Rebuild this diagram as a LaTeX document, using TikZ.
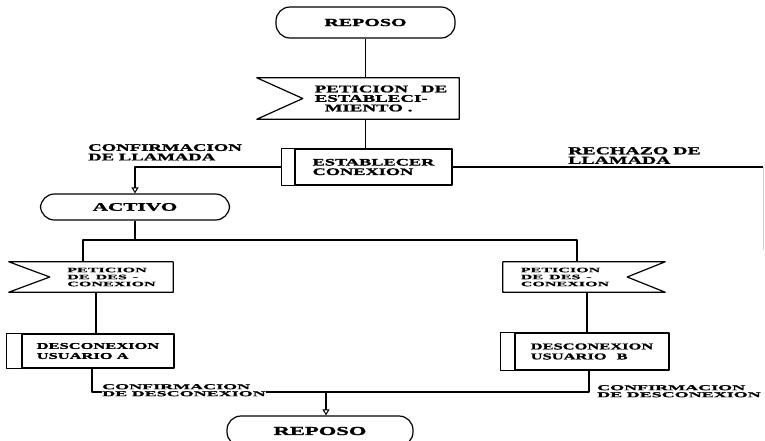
\documentclass[tikz,border=0pt]{standalone}
\usepackage{fontspec}
\newfontfamily\dfont{Liberation Serif}[FakeStretch=1.85, FakeBold=1.6]
\newfontfamily\dfontw{Liberation Serif}[FakeStretch=2.4, FakeBold=1.6]
\usetikzlibrary{arrows.meta,calc}
\tikzset{
  ln/.style={line width=1.2pt, line join=round},
  arr/.style={ln, -{Triangle[open, length=6pt, width=7pt, line width=1pt]}},
  stad/.style={draw, ln, rounded corners=14pt, inner sep=0pt},
  flagtxt/.style={inner sep=0pt, align=left},
  boxtxt/.style={draw, ln, inner sep=0pt, align=left},
  lbl/.style={inner sep=0pt, align=left},
  fa/.style={font={\dfont\bfseries\fontsize{#1}{9.5}\selectfont}},
  fb/.style={font={\dfontw\bfseries\fontsize{#1}{7}\selectfont}}
}
\begin{document}
\begin{tikzpicture}[x=1pt,y=-1pt]
\fill[white] (0,0) rectangle (765,440);
\useasboundingbox (0,0) rectangle (765,440);

% states
\node[stad, minimum width=179pt, minimum height=31pt, fa=10.8] (r1) at (365.5,22.5) {REPOSO\hspace{38pt}};
\node[stad, minimum width=189pt, minimum height=26pt, fa=11.5] (ac) at (135,207) {ACTIVO};
\node[stad, minimum width=186pt, minimum height=30pt, fa=12.2] (r2) at (320,431) {REPOSO};

% input signal (flag) top
\node[flagtxt, minimum width=156pt, minimum height=41pt, fa=10.2] (p1) at (381,98.5)
  {PETICION\hspace{13pt}DE\\ESTABLECI-\\\hspace{10pt}MIENTO .};
\draw[ln] (p1.north east) -- ($(p1.north west)+(-46,0)$) -- (p1.west)
  -- ($(p1.south west)+(-46,0)$) -- (p1.south east) -- cycle;

% process box top
\node[boxtxt, minimum width=157pt, minimum height=36pt, fa=9.9] (ea) at (373.5,167) {ESTABLECER\\CONEXION};
\draw[ln] ($(ea.north west)+(-13,0)$) rectangle (ea.south west);

% left flag
\node[flagtxt, minimum width=123pt, minimum height=30pt, fb=6.7] (pl) at (111.5,277)
  {PETICION\\DE\hspace{6pt}DES\hspace{6pt}-\\CONEXION};
\draw[ln] (pl.north east) -- ($(pl.north west)+(-41,0)$) -- (pl.west)
  -- ($(pl.south west)+(-41,0)$) -- (pl.south east) -- cycle;

% right flag
\node[flagtxt, minimum width=124pt, minimum height=30pt, fb=6.7] (pr) at (565,277)
  {PETICION\\DE\hspace{6pt}DES\hspace{6pt}-\\CONEXION};
\draw[ln] (pr.north west) -- ($(pr.north east)+(38,0)$) -- (pr.east)
  -- ($(pr.south east)+(38,0)$) -- (pr.south west) -- cycle;

% process boxes bottom
\node[boxtxt, minimum width=152pt, minimum height=34pt, font={\dfont\bfseries\fontsize{8.9}{10}\selectfont}] (ba) at (98,351) {DESCONEXION\\USUARIO A};
\draw[ln] ($(ba.north west)+(-15,0)$) rectangle (ba.south west);
\node[boxtxt, minimum width=154pt, minimum height=37pt, font={\dfont\bfseries\fontsize{8.9}{10}\selectfont}] (bb) at (592,351.5) {DESCONEXION\\USUARIO\hspace{10pt}B};
\draw[ln] ($(bb.north west)+(-14,0)$) rectangle (bb.south west);

% coordinates
\coordinate (eaL) at ($(ea.west)+(-13,0)$);
\coordinate (rr) at (763,167);
\coordinate (rr2) at (763,250);
\coordinate (jl) at (83,240);
\coordinate (jr) at (577,240);
\coordinate (xa) at (96,300);
\coordinate (xb) at (587,300);
\coordinate (cl) at (92,392);
\coordinate (cr) at (589,392);
\coordinate (ca) at (326,392);

% connectors
\draw[ln] (r1.south) -- (r1.south |- p1.north);
\draw[ln] (r1.south |- p1.south) -- (r1.south |- ea.north);
\draw[arr] (eaL) -- (eaL -| ac.north) -- (ac.north);
\draw[ln] (ea.east) -- (rr);
\draw[gray!35, line width=0.8pt] (rr) -- (rr2);
\draw[ln] (ac.south) -- (ac.south |- jl);
\draw[ln] (jl |- pl.north) -- (jl) -- (jr) -- (jr |- pr.north);
\draw[ln] (xa |- pl.south) -- (xa |- ba.north);
\draw[ln] (xb |- pr.south) -- (xb |- bb.north);
\draw[ln] (ba.south -| cl) -- (cl) -- (cr) -- (bb.south -| cr);
\draw[arr] (ca) -- (ca |- r2.north);

% labels
\node[lbl, anchor=north west, fa=10.1] (l1) at (88,144) {CONFIRMACION\\DE LLAMADA};
\node[lbl, anchor=north west, fa=10.7] (l2) at (568,147) {RECHAZO DE\\LLAMADA};
\node[lbl, anchor=north west, fill=white, fb=7.5] (l3) at (102,384) {CONFIRMACION\\DE DESCONEXION};
\node[lbl, anchor=north west, fill=white, fb=7.5] (l4) at (597,385) {CONFIRMACION\\DE DESCONEXION};
\end{tikzpicture}
\end{document}
